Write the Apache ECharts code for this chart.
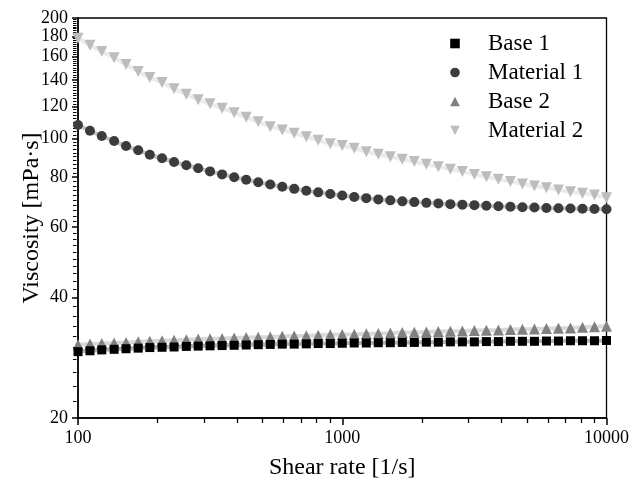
<!DOCTYPE html>
<html>
<head>
<meta charset="utf-8">
<script src="https://cdn.jsdelivr.net/npm/echarts@6/dist/echarts.min.js"></script>
<style>
  html, body { margin: 0; padding: 0; background: #fff; }
  #chart { width: 632px; height: 486px; }
</style>
</head>
<body>
<div id="chart"></div>
<script>
// shear rate [1/s], log ramp 100 -> 10000
const shearRate = [100, 111, 123, 137, 152, 169, 187, 208, 231, 257, 285, 316, 351, 390, 433, 481, 534, 593, 658, 731, 811, 901,
  1000, 1110, 1233, 1369, 1520, 1688, 1874, 2081, 2310, 2565, 2848, 3162, 3511, 3899, 4329, 4806, 5337, 5926, 6579, 7305, 8111, 9006, 10000];

// viscosity [mPa·s]
const base1 = [29.3, 29.45, 29.6, 29.7, 29.8, 29.9, 30.0, 30.05, 30.1, 30.2, 30.25, 30.3, 30.35, 30.4, 30.45, 30.5, 30.55, 30.6, 30.6, 30.65, 30.7, 30.7,
  30.75, 30.8, 30.8, 30.85, 30.85, 30.9, 30.9, 30.95, 30.95, 31.0, 31.0, 31.0, 31.05, 31.05, 31.1, 31.1, 31.1, 31.15, 31.15, 31.2, 31.2, 31.2, 31.25];
const material1 = [108, 104.5, 101.4, 98.5, 95.7, 93.4, 91.0, 89.2, 87.3, 85.7, 84.2, 82.7, 81.3, 80.0, 78.8, 77.7, 76.7, 75.7, 74.8, 74.0, 73.3, 72.6,
  72.0, 71.4, 70.9, 70.4, 70.0, 69.6, 69.3, 69.0, 68.8, 68.5, 68.3, 68.1, 67.9, 67.7, 67.5, 67.3, 67.2, 67.0, 66.9, 66.8, 66.7, 66.6, 66.5];
const base2 = [30.5, 30.6, 30.7, 30.8, 30.9, 31.0, 31.1, 31.2, 31.3, 31.4, 31.5, 31.55, 31.6, 31.7, 31.8, 31.85, 31.9, 32.0, 32.05, 32.1, 32.2, 32.3,
  32.35, 32.4, 32.5, 32.55, 32.6, 32.7, 32.75, 32.8, 32.9, 32.95, 33.0, 33.1, 33.15, 33.2, 33.3, 33.35, 33.4, 33.5, 33.55, 33.6, 33.7, 33.8, 33.9];
const material2 = [178, 171, 165, 159, 153, 147, 142, 138, 133, 129, 125, 122, 119, 116, 113, 110, 107, 105, 103, 101, 99, 97,
  96, 94.5, 92.6, 91.3, 90.0, 88.7, 87.5, 86.2, 85.0, 83.7, 82.6, 81.3, 80.2, 79.0, 78.0, 76.9, 76.0, 75.3, 74.3, 73.6, 72.9, 72.2, 71.1];

const xTicks = [100, 1000, 10000];
const xMinorTicks = [200, 300, 400, 500, 600, 700, 800, 900, 2000, 3000, 4000, 5000, 6000, 7000, 8000, 9000];
const yTicks = [20, 40, 60, 80, 100, 120, 140, 160, 180, 200];

const lg = Math.log10;
const FONT = "'Liberation Serif', 'Times New Roman', serif";

// minor ticks every 2 mPa·s between the labelled ones
let yMinorTicks = [];
for (let v = 22; v < 200; v += 2) {
  if (v % 20 !== 0) yMinorTicks.push(v);
}

function pairs(ys) {
  return shearRate.map((x, i) => [lg(x), lg(ys[i])]);
}

function makeSeries(name, ys, symbol, size, color, rotate, z) {
  return {
    name: name,
    type: "line",
    data: pairs(ys),
    symbol: symbol,
    symbolSize: size,
    symbolRotate: rotate,
    itemStyle: { color: color },
    lineStyle: { color: color, width: 4, opacity: 0.3 },
    z: z,
    animation: false,
  };
}

const labelFmt = (v) => String(Math.round(Math.pow(10, v)));

// grid size, used to move the extra tick axes onto the main ones
const G = { left: 78, right: 24, top: 18, bottom: 68 };
const gridW = 632 - G.left - G.right;
const gridH = 486 - G.top - G.bottom;

const options = {
  backgroundColor: "#fff",
  grid: {
    left: G.left,
    right: G.right,
    top: G.top,
    bottom: G.bottom,
    show: true,
    borderColor: "#000",
    borderWidth: 1.3,
  },
  legend: {
    orient: "vertical",
    left: 422,
    top: 27,
    itemWidth: 56,
    itemHeight: 12,
    itemGap: 6,
    lineStyle: { width: 0, opacity: 0 },
    textStyle: { fontFamily: FONT, fontSize: 23, color: "#000" },
    data: ["Base 1", "Material 1", "Base 2", "Material 2"],
  },
  xAxis: [
    {
      // log10 of shear rate; whole decades get the labels and long ticks
      type: "value",
      min: 2,
      max: 4,
      interval: 1,
      position: "bottom",
      name: "Shear rate [1/s]",
      nameLocation: "middle",
      nameGap: 38,
      nameTextStyle: { fontFamily: FONT, fontSize: 24, color: "#000" },
      axisLine: { show: true, onZero: false, lineStyle: { color: "#000", width: 1.5 } },
      axisTick: { show: true, inside: false, length: 7, lineStyle: { color: "#000", width: 1.5 } },
      axisLabel: {
        customValues: xTicks.map(lg),
        formatter: labelFmt,
        fontFamily: FONT,
        fontSize: 18,
        color: "#000",
        margin: 11,
      },
      splitLine: { show: false },
    },
    {
      // minor ticks, moved from the top down onto the bottom line
      type: "value",
      min: 2,
      max: 4,
      position: "top",
      offset: -gridH,
      axisLine: { show: false, onZero: false },
      axisTick: { show: true, inside: true, customValues: xMinorTicks.map(lg), length: 5, lineStyle: { color: "#000", width: 1.3 } },
      axisLabel: { show: false },
      splitLine: { show: false },
    },
  ],
  yAxis: [
    {
      type: "value",
      min: lg(20),
      max: lg(200),
      position: "left",
      name: "Viscosity [mPa·s]",
      nameLocation: "middle",
      nameGap: 34,
      nameMoveOverlap: false,
      nameTextStyle: { fontFamily: FONT, fontSize: 24, color: "#000" },
      axisLine: { show: true, onZero: false, lineStyle: { color: "#000", width: 1.5 } },
      axisTick: { show: true, customValues: yTicks.map(lg), length: 6, lineStyle: { color: "#000", width: 1.5 } },
      axisLabel: {
        customValues: yTicks.map(lg),
        formatter: labelFmt,
        fontFamily: FONT,
        fontSize: 18,
        color: "#000",
        margin: 10,
      },
      splitLine: { show: false },
    },
    {
      // minor ticks, moved from the right onto the left line
      type: "value",
      min: lg(20),
      max: lg(200),
      position: "right",
      offset: -gridW,
      axisLine: { show: false, onZero: false },
      axisTick: { show: true, inside: true, customValues: yMinorTicks.map(lg), length: 3.5, lineStyle: { color: "#000", width: 1 } },
      axisLabel: { show: false },
      splitLine: { show: false },
    },
  ],
  series: [
    makeSeries("Base 1", base1, "rect", 9, "#000000", 0, 5),
    makeSeries("Material 1", material1, "circle", 10, "#3c3c3c", 0, 3),
    makeSeries("Base 2", base2, "triangle", 11, "#808080", 0, 4),
    makeSeries("Material 2", material2, "triangle", 11, "#bdbdbd", 180, 2),
  ],
};

const chart = echarts.init(document.getElementById("chart"));
chart.setOption(options);
</script>
</body>
</html>
